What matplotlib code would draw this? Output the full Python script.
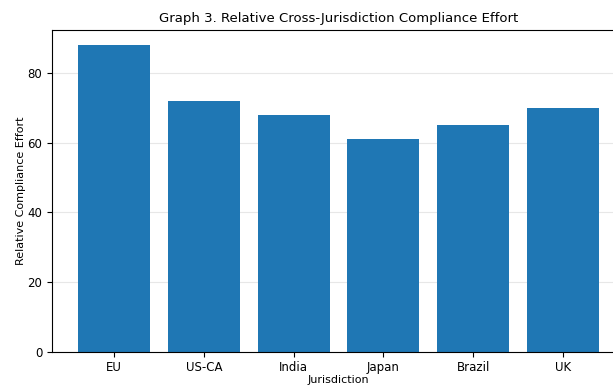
import matplotlib
matplotlib.use('agg')
import matplotlib.pyplot as plt

jurisdictions = ['EU', 'US-CA', 'India', 'Japan', 'Brazil', 'UK']
effort = [88, 72, 68, 61, 65, 70]

fig = plt.figure(figsize=(6.13, 3.85), dpi=100)
ax = fig.add_axes([52 / 613, 33.3 / 385, 573 / 613, 321.7 / 385])

ax.bar(jurisdictions, effort, color='#1f77b4')
ax.set_title('Graph 3. Relative Cross-Jurisdiction Compliance Effort', fontsize=9.5)
ax.set_xlabel('Jurisdiction', fontsize=8, labelpad=0.5)
ax.set_ylabel('Relative Compliance Effort', fontsize=8, labelpad=1)
ax.tick_params(labelsize=8.5)
ax.grid(axis='y', alpha=0.3)
ax.set_axisbelow(True)

plt.savefig('out.png', dpi=100)
plt.close(fig)
